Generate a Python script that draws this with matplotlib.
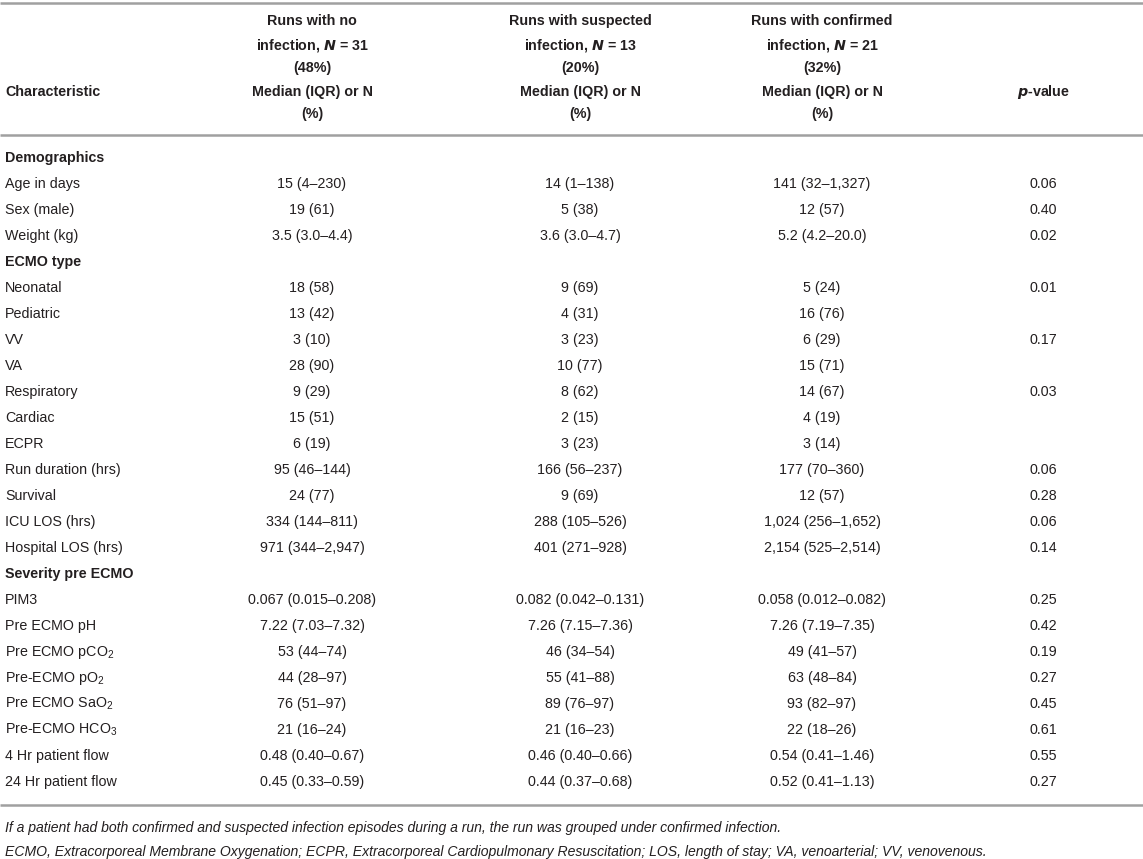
import matplotlib
matplotlib.use("Agg")
import matplotlib.pyplot as plt

plt.rcParams['font.family'] = ['Liberation Sans', 'DejaVu Sans']
plt.rcParams['mathtext.fontset'] = 'custom'
plt.rcParams['mathtext.rm'] = 'Liberation Sans'
plt.rcParams['mathtext.it'] = 'Liberation Sans:italic'
plt.rcParams['mathtext.bf'] = 'Liberation Sans:bold'

# ---------------- data ----------------
group_titles = [["Runs with no", "infection, $\\boldsymbol{N}$ = 31", "(48%)"],
                ["Runs with suspected", "infection, $\\boldsymbol{N}$ = 13", "(20%)"],
                ["Runs with confirmed", "infection, $\\boldsymbol{N}$ = 21", "(32%)"]]
stat_label = ["Median (IQR) or N", "(%)"]

characteristics = ["Demographics", "Age in days", "Sex (male)", "Weight (kg)",
                   "ECMO type", "Neonatal", "Pediatric", "VV", "VA", "Respiratory",
                   "Cardiac", "ECPR", "Run duration (hrs)", "Survival", "ICU LOS (hrs)",
                   "Hospital LOS (hrs)", "Severity pre ECMO", "PIM3", "Pre ECMO pH",
                   "Pre ECMO pCO$_2$", "Pre-ECMO pO$_2$", "Pre ECMO SaO$_2$",
                   "Pre-ECMO HCO$_3$", "4 Hr patient flow", "24 Hr patient flow"]
section_rows = {"Demographics", "ECMO type", "Severity pre ECMO"}

no_infection = ["", "15 (4–230)", "19 (61)", "3.5 (3.0–4.4)",
                "", "18 (58)", "13 (42)", "3 (10)", "28 (90)", "9 (29)",
                "15 (51)", "6 (19)", "95 (46–144)", "24 (77)", "334 (144–811)",
                "971 (344–2,947)", "", "0.067 (0.015–0.208)", "7.22 (7.03–7.32)",
                "53 (44–74)", "44 (28–97)", "76 (51–97)", "21 (16–24)",
                "0.48 (0.40–0.67)", "0.45 (0.33–0.59)"]
suspected = ["", "14 (1–138)", "5 (38)", "3.6 (3.0–4.7)",
             "", "9 (69)", "4 (31)", "3 (23)", "10 (77)", "8 (62)",
             "2 (15)", "3 (23)", "166 (56–237)", "9 (69)", "288 (105–526)",
             "401 (271–928)", "", "0.082 (0.042–0.131)", "7.26 (7.15–7.36)",
             "46 (34–54)", "55 (41–88)", "89 (76–97)", "21 (16–23)",
             "0.46 (0.40–0.66)", "0.44 (0.37–0.68)"]
confirmed = ["", "141 (32–1,327)", "12 (57)", "5.2 (4.2–20.0)",
             "", "5 (24)", "16 (76)", "6 (29)", "15 (71)", "14 (67)",
             "4 (19)", "3 (14)", "177 (70–360)", "12 (57)", "1,024 (256–1,652)",
             "2,154 (525–2,514)", "", "0.058 (0.012–0.082)", "7.26 (7.19–7.35)",
             "49 (41–57)", "63 (48–84)", "93 (82–97)", "22 (18–26)",
             "0.54 (0.41–1.46)", "0.52 (0.41–1.13)"]
p_values = ["", "0.06", "0.40", "0.02",
            "", "0.01", "", "0.17", "", "0.03",
            "", "", "0.06", "0.28", "0.06",
            "0.14", "", "0.25", "0.42",
            "0.19", "0.27", "0.45", "0.61",
            "0.55", "0.27"]
footnotes = ["If a patient had both confirmed and suspected infection episodes during a run, the run was grouped under confirmed infection.",
             "ECMO, Extracorporeal Membrane Oxygenation; ECPR, Extracorporeal Cardiopulmonary Resuscitation; LOS, length of stay; VA, venoarterial; VV, venovenous."]

# ---------------- layout ----------------
W, H = 1143, 859
fig = plt.figure(figsize=(W / 100, H / 100), dpi=100)
ax = fig.add_axes([0, 0, 1, 1])
ax.set_xlim(0, W)
ax.set_ylim(H, 0)
ax.axis("off")

txt_color = "#231f20"
rule_color = "#a0a0a0"
fs = 10.3
bl = 5  # offset from visual centre of capitals to baseline (pixels)

col_x = [312, 580, 822]
p_x = 1043
label_x = 5


def put(x, y, s, ha="center", **kw):
    ax.text(x, y + bl, s, ha=ha, va="baseline", fontsize=kw.pop("fontsize", fs),
            color=txt_color, **kw)


# rules
for yy in (3, 135, 805):
    ax.plot([0, W], [yy, yy], color=rule_color, lw=1.8, solid_capstyle="butt")

# header
title_y = [20, 45, 67]
stat_y = [91, 113]
for cx, title in zip(col_x, group_titles):
    for ty, line in zip(title_y, title):
        put(cx, ty, line, fontweight="bold")
    for sy, line in zip(stat_y, stat_label):
        put(cx, sy, line, fontweight="bold")
put(label_x, 91, "Characteristic", ha="left", fontweight="bold")
put(p_x, 91, "$\\boldsymbol{p}$-value", fontweight="bold")

# body
y0, dy = 157, 26
for i, lab in enumerate(characteristics):
    y = y0 + i * dy
    bold = lab in section_rows
    put(label_x, y, lab, ha="left", fontweight="bold" if bold else "normal")
    for cx, vals in zip(col_x, (no_infection, suspected, confirmed)):
        if vals[i]:
            put(cx, y, vals[i])
    if p_values[i]:
        put(p_x, y, p_values[i])

# footnotes
for j, fn in enumerate(footnotes):
    put(label_x, 827 + j * 24, fn, ha="left", fontsize=10.1, style="italic")

fig.savefig("out.png", dpi=100)
